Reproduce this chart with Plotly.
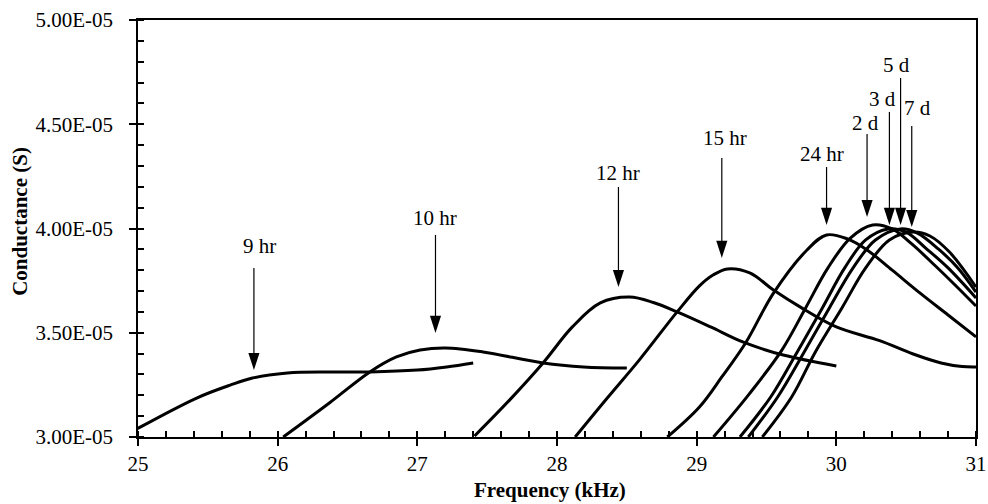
import plotly.graph_objects as go

SCALE = 1e-5  # values below are in units of 1E-05 S

# ---- curve data (frequency in kHz, conductance in 1E-05 S) ----
f_9hr = [24.99, 25.42, 25.66, 25.82, 26.07, 26.37, 26.66, 27.00, 27.21, 27.40]
g_9hr = [3.038, 3.187, 3.249, 3.283, 3.307, 3.312, 3.312, 3.321, 3.336, 3.355]

f_10hr = [26.04, 26.37, 26.66, 26.85, 27.02, 27.20, 27.47, 27.90, 28.19, 28.50]
g_10hr = [3.000, 3.163, 3.312, 3.384, 3.417, 3.427, 3.408, 3.355, 3.336, 3.331]

f_12hr = [27.41, 27.66, 27.90, 28.11, 28.31, 28.52, 28.69, 28.86, 29.10, 29.33, 29.62, 30.00]
g_12hr = [3.005, 3.177, 3.355, 3.528, 3.643, 3.671, 3.645, 3.600, 3.528, 3.456, 3.393, 3.341]

f_15hr = [28.13, 28.36, 28.59, 28.86, 29.02, 29.12, 29.22, 29.38, 29.55, 29.74, 30.00, 30.31, 30.55, 30.75, 30.90, 31.00]
g_15hr = [3.000, 3.187, 3.370, 3.600, 3.725, 3.778, 3.806, 3.787, 3.705, 3.624, 3.528, 3.462, 3.398, 3.355, 3.338, 3.336]

f_24hr = [28.79, 29.02, 29.18, 29.35, 29.55, 29.79, 29.93, 30.08, 30.22, 30.40, 30.60, 30.80, 31.00]
g_24hr = [3.000, 3.144, 3.288, 3.451, 3.690, 3.897, 3.969, 3.950, 3.897, 3.800, 3.690, 3.585, 3.480]

f_2d = [29.12, 29.37, 29.61, 29.78, 29.94, 30.10, 30.26, 30.40, 30.54, 30.71, 30.85, 31.00]
g_2d = [3.000, 3.201, 3.417, 3.619, 3.811, 3.954, 4.017, 3.998, 3.926, 3.820, 3.729, 3.628]

f_3d = [29.31, 29.53, 29.72, 29.90, 30.06, 30.21, 30.37, 30.50, 30.64, 30.80, 31.00]
g_3d = [3.000, 3.192, 3.408, 3.619, 3.811, 3.945, 3.998, 3.983, 3.906, 3.811, 3.667]

f_5d = [29.37, 29.58, 29.77, 29.95, 30.12, 30.28, 30.46, 30.58, 30.73, 30.87, 31.00]
g_5d = [3.000, 3.192, 3.408, 3.619, 3.811, 3.945, 3.998, 3.978, 3.902, 3.811, 3.695]

f_7d = [29.47, 29.68, 29.85, 30.04, 30.21, 30.38, 30.55, 30.67, 30.81, 31.00]
g_7d = [3.000, 3.192, 3.408, 3.619, 3.811, 3.945, 3.983, 3.964, 3.887, 3.719]

series = [
    (f_9hr, g_9hr, "9 hr"), (f_10hr, g_10hr, "10 hr"), (f_12hr, g_12hr, "12 hr"),
    (f_15hr, g_15hr, "15 hr"), (f_24hr, g_24hr, "24 hr"), (f_2d, g_2d, "2 d"),
    (f_3d, g_3d, "3 d"), (f_5d, g_5d, "5 d"), (f_7d, g_7d, "7 d"),
]

# ---- arrow annotations (x of arrow, tail y, tip y, label position) ----
arrow_labels = ["9 hr", "10 hr", "12 hr", "15 hr", "24 hr", "2 d", "3 d", "5 d", "7 d"]
arrow_x      = [25.83, 27.13, 28.44, 29.18, 29.93, 30.22, 30.38, 30.46, 30.54]
arrow_tail   = [3.811, 3.969, 4.199, 4.338, 4.295, 4.453, 4.559, 4.722, 4.492]
arrow_tip    = [3.321, 3.499, 3.719, 3.859, 4.017, 4.055, 4.017, 4.017, 4.007]
label_x      = [25.87, 27.13, 28.44, 29.20, 29.90, 30.21, 30.33, 30.43, 30.58]
label_y      = [3.916, 4.050, 4.266, 4.434, 4.357, 4.506, 4.621, 4.784, 4.578]

# ---- axis ticks ----
x_ticks = [25, 26, 27, 28, 29, 30, 31]
y_tick_vals = [3.0, 3.5, 4.0, 4.5, 5.0]
y_tick_text = ["3.00E-05", "3.50E-05", "4.00E-05", "4.50E-05", "5.00E-05"]
x_title = "Frequency (kHz)"
y_title = "Conductance (S)"

FONT = "Liberation Serif, Times New Roman, serif"

fig = go.Figure()
for fx, gy, name in series:
    fig.add_trace(go.Scatter(
        x=fx, y=[v * SCALE for v in gy], mode="lines", name=name,
        line=dict(color="black", width=3, shape="spline", smoothing=1.0),
        showlegend=False, hoverinfo="skip",
    ))

# arrow shafts
sx, sy = [], []
for xa, t0, t1 in zip(arrow_x, arrow_tail, arrow_tip):
    sx += [xa, xa, None]
    sy += [t0 * SCALE, (t1 + 0.04) * SCALE, None]
fig.add_trace(go.Scatter(x=sx, y=sy, mode="lines",
                         line=dict(color="black", width=1.2),
                         showlegend=False, hoverinfo="skip"))
# arrow heads
fig.add_trace(go.Scatter(x=arrow_x, y=[v * SCALE for v in arrow_tip], mode="markers",
                         marker=dict(symbol="arrow", angle=180, size=18, color="black",
                                     line=dict(width=0)),
                         showlegend=False, hoverinfo="skip", cliponaxis=False))

for lx, ly, txt in zip(label_x, label_y, arrow_labels):
    fig.add_annotation(x=lx, y=ly * SCALE, text=txt, showarrow=False,
                       xanchor="center", yanchor="middle",
                       font=dict(family=FONT, size=21, color="black"))

# axis titles as paper-positioned text
fig.add_annotation(xref="paper", yref="paper", x=0.4916, y=-0.127, text=x_title,
                   showarrow=False, xanchor="center", yanchor="middle",
                   font=dict(family=FONT, size=21, color="black", weight="bold"))
fig.add_annotation(xref="paper", yref="paper", x=-0.1408, y=0.516, text=y_title,
                   showarrow=False, xanchor="center", yanchor="middle", textangle=-90,
                   font=dict(family=FONT, size=21, color="black", weight="bold"))

fig.update_layout(
    width=988, height=504,
    margin=dict(l=138, r=12, t=20, b=67, autoexpand=False),
    paper_bgcolor="white", plot_bgcolor="white",
    font=dict(family=FONT, size=20, color="black"),
)
fig.update_xaxes(
    range=[25, 31], tickvals=x_ticks, ticktext=[str(v) for v in x_ticks],
    showgrid=False, zeroline=False, automargin=False,
    showline=True, linecolor="black", linewidth=1.5, mirror=True,
    ticks="outside", ticklen=7, tickwidth=1.5, tickcolor="black",
    minor=dict(dtick=0.2, tick0=25, ticks="inside", ticklen=6, tickwidth=1.5, tickcolor="black", showgrid=False),
    tickfont=dict(family=FONT, size=21, color="black"),
    ticklabelstandoff=0,
)
fig.update_yaxes(
    range=[3.0 * SCALE, 5.0 * SCALE],
    tickvals=[v * SCALE for v in y_tick_vals], ticktext=y_tick_text,
    showgrid=False, zeroline=False, automargin=False,
    showline=True, linecolor="black", linewidth=1.5, mirror=True,
    ticks="outside", ticklen=7, tickwidth=1.5, tickcolor="black",
    minor=dict(dtick=0.1 * SCALE, tick0=3.0 * SCALE, ticks="inside", ticklen=6, tickwidth=1.5, tickcolor="black", showgrid=False),
    tickfont=dict(family=FONT, size=21, color="black"),
    ticklabelstandoff=12,
)

fig.write_html("out.html", config={"displayModeBar": False},
               post_script="document.body.style.margin='0';document.body.style.padding='0';")
